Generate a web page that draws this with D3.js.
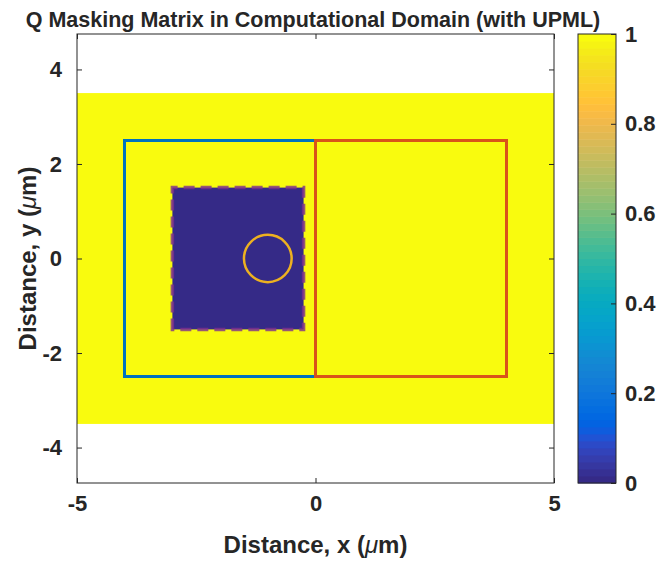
<!DOCTYPE html>
<html>
<head>
<meta charset="utf-8">
<script src="https://cdn.jsdelivr.net/npm/d3@7"></script>
<style>
  html, body { margin: 0; padding: 0; background: #fff; }
  svg { display: block; }
  text { font-family: "Liberation Sans", Arial, Helvetica, sans-serif; fill: #262626; }
</style>
</head>
<body>
<svg id="chart" width="657" height="563"></svg>
<script>
// Q mask: computational domain (value 1) with a masked scatterer region (value 0)
const domainX = [-5, 5];
const domainY = [-3.5, 3.5];
const maskX = [-3, -0.25];
const maskY = [-1.5, 1.5];
const domainQ = 1;
const maskQ = 0;

// Total-field box (left) and scattered-field box (right)
const totalBoxX = [-4, 0];
const totalBoxY = [-2.5, 2.5];
const scatBoxX = [0, 4];
const scatBoxY = [-2.5, 2.5];

// Circular scatterer
const circleCenter = [-1, 0];
const circleRadius = 0.5;

// Axis ticks
const xTicks = [-5, 0, 5];
const yTicks = [-4, -2, 0, 2, 4];
const cTicks = [0, 0.2, 0.4, 0.6, 0.8, 1];

// parula colormap, 64 entries
const parula = [
[0.2081,0.1663,0.5292],[0.2116,0.1898,0.5777],[0.2123,0.2138,0.6270],[0.2081,0.2386,0.6771],
[0.1959,0.2645,0.7279],[0.1707,0.2919,0.7792],[0.1253,0.3242,0.8303],[0.0591,0.3598,0.8683],
[0.0117,0.3875,0.8820],[0.0060,0.4086,0.8828],[0.0165,0.4266,0.8786],[0.0329,0.4430,0.8720],
[0.0498,0.4586,0.8641],[0.0629,0.4737,0.8554],[0.0723,0.4887,0.8467],[0.0779,0.5040,0.8384],
[0.0793,0.5200,0.8312],[0.0749,0.5375,0.8263],[0.0641,0.5570,0.8240],[0.0488,0.5772,0.8228],
[0.0343,0.5966,0.8199],[0.0265,0.6137,0.8135],[0.0239,0.6287,0.8038],[0.0231,0.6418,0.7913],
[0.0228,0.6535,0.7768],[0.0267,0.6642,0.7607],[0.0384,0.6743,0.7436],[0.0590,0.6838,0.7254],
[0.0843,0.6928,0.7062],[0.1133,0.7015,0.6859],[0.1453,0.7098,0.6646],[0.1801,0.7177,0.6424],
[0.2178,0.7250,0.6193],[0.2586,0.7317,0.5954],[0.3022,0.7376,0.5712],[0.3482,0.7424,0.5473],
[0.3953,0.7459,0.5244],[0.4420,0.7481,0.5033],[0.4871,0.7491,0.4840],[0.5300,0.7491,0.4661],
[0.5709,0.7485,0.4494],[0.6099,0.7473,0.4337],[0.6473,0.7456,0.4188],[0.6834,0.7435,0.4044],
[0.7184,0.7411,0.3905],[0.7525,0.7384,0.3768],[0.7858,0.7356,0.3633],[0.8185,0.7327,0.3498],
[0.8507,0.7299,0.3360],[0.8824,0.7274,0.3217],[0.9139,0.7258,0.3063],[0.9450,0.7261,0.2886],
[0.9739,0.7314,0.2666],[0.9938,0.7455,0.2403],[0.9990,0.7653,0.2164],[0.9955,0.7861,0.1967],
[0.9880,0.8066,0.1794],[0.9789,0.8271,0.1633],[0.9697,0.8481,0.1475],[0.9626,0.8705,0.1309],
[0.9589,0.8949,0.1132],[0.9598,0.9218,0.0948],[0.9661,0.9514,0.0755],[0.9763,0.9831,0.0538]
];
const parulaRGB = parula.map(c => d3.rgb(c[0] * 255, c[1] * 255, c[2] * 255).formatHex());

const svg = d3.select("#chart");
const plot = { left: 77, right: 554, top: 34, bottom: 483 };
const cbar = { left: 578, right: 616 };

const x = d3.scaleLinear().domain([-5, 5]).range([plot.left, plot.right]);
const y = d3.scaleLinear().domain([-4.75, 4.75]).range([plot.bottom, plot.top]);
const cIndex = d3.scaleQuantize().domain([0, 1]).range(d3.range(parulaRGB.length));
const colorOf = v => parulaRGB[cIndex(Math.min(v, 0.99999))];

// plain hyphen for negative tick labels
const intFmt = d => String(d);

const clipId = "plotClip";
svg.append("defs").append("clipPath").attr("id", clipId)
  .append("rect")
  .attr("x", plot.left).attr("y", plot.top)
  .attr("width", plot.right - plot.left).attr("height", plot.bottom - plot.top);

const g = svg.append("g").attr("clip-path", `url(#${clipId})`);

// Q matrix image
const qRegions = [
  { xs: domainX, ys: domainY, q: domainQ },
  { xs: maskX, ys: maskY, q: maskQ }
];
g.selectAll("rect.q").data(qRegions).join("rect")
  .attr("class", "q")
  .attr("x", d => x(d.xs[0]))
  .attr("y", d => y(d.ys[1]))
  .attr("width", d => x(d.xs[1]) - x(d.xs[0]))
  .attr("height", d => y(d.ys[0]) - y(d.ys[1]))
  .attr("fill", d => colorOf(d.q));

// Outlines
function boxPath(xs, ys) {
  return `M${x(xs[0])},${y(ys[0])}L${x(xs[0])},${y(ys[1])}L${x(xs[1])},${y(ys[1])}L${x(xs[1])},${y(ys[0])}Z`;
}
g.append("path").attr("d", boxPath(maskX, maskY))
  .attr("fill", "none").attr("stroke", "#7E2F8E").attr("stroke-width", 3.5)
  .attr("stroke-dasharray", "11,6").attr("stroke-opacity", 0.8);
g.append("path").attr("d", boxPath(totalBoxX, totalBoxY))
  .attr("fill", "none").attr("stroke", "#0072BD").attr("stroke-width", 2.5)
  .attr("shape-rendering", "crispEdges");
g.append("path").attr("d", boxPath(scatBoxX, scatBoxY))
  .attr("fill", "none").attr("stroke", "#D95319").attr("stroke-width", 2.5)
  .attr("shape-rendering", "crispEdges");
g.append("ellipse")
  .attr("cx", x(circleCenter[0])).attr("cy", y(circleCenter[1]))
  .attr("rx", x(circleRadius) - x(0)).attr("ry", y(0) - y(circleRadius))
  .attr("fill", "none").attr("stroke", "#EDB120").attr("stroke-width", 2.5);

// Axes frame and inward ticks on all sides
const axisColor = "#262626";
const tickLen = 5;
const tickFont = "22px";
const axes = svg.append("g");
axes.append("rect")
  .attr("x", plot.left).attr("y", plot.top)
  .attr("width", plot.right - plot.left).attr("height", plot.bottom - plot.top)
  .attr("fill", "none").attr("stroke", axisColor).attr("stroke-width", 1);

const axBottom = d3.axisBottom(x).tickValues(xTicks).tickSize(-tickLen).tickFormat(intFmt).tickPadding(12);
const axTop = d3.axisTop(x).tickValues(xTicks).tickSize(-tickLen).tickFormat("");
const axLeft = d3.axisLeft(y).tickValues(yTicks).tickSize(-tickLen).tickFormat(intFmt).tickPadding(15);
const axRight = d3.axisRight(y).tickValues(yTicks).tickSize(-tickLen).tickFormat("");

function styleAxis(sel) {
  sel.select(".domain").remove();
  sel.selectAll(".tick line").attr("stroke", axisColor);
  sel.selectAll(".tick text")
    .attr("fill", axisColor)
    .style("font-size", tickFont).style("font-weight", "bold")
    .style("font-family", '"Liberation Sans", Arial, sans-serif');
}
axes.append("g").attr("transform", `translate(0,${plot.bottom})`).call(axBottom).call(styleAxis);
axes.append("g").attr("transform", `translate(0,${plot.top})`).call(axTop).call(styleAxis);
axes.append("g").attr("transform", `translate(${plot.left},0)`).call(axLeft).call(styleAxis);
axes.append("g").attr("transform", `translate(${plot.right},0)`).call(axRight).call(styleAxis);

// Colorbar
const cy = d3.scaleLinear().domain([0, 1]).range([plot.bottom, plot.top]);
const nC = parulaRGB.length;
const cb = svg.append("g");
cb.selectAll("rect.c").data(parulaRGB).join("rect")
  .attr("class", "c")
  .attr("x", cbar.left)
  .attr("y", (d, i) => cy((i + 1) / nC))
  .attr("width", cbar.right - cbar.left)
  .attr("height", (d, i) => cy(i / nC) - cy((i + 1) / nC) + 0.5)
  .attr("fill", d => d);
cb.append("rect")
  .attr("x", cbar.left).attr("y", plot.top)
  .attr("width", cbar.right - cbar.left).attr("height", plot.bottom - plot.top)
  .attr("fill", "none").attr("stroke", axisColor).attr("stroke-width", 1);
const axC = d3.axisRight(cy).tickValues(cTicks).tickSize(-tickLen).tickPadding(9)
  .tickFormat(d => d === 0 || d === 1 ? String(d) : d.toFixed(1));
cb.append("g").attr("transform", `translate(${cbar.right},0)`).call(axC).call(styleAxis);

// Title and axis labels
svg.append("text")
  .attr("x", 313).attr("y", 27)
  .attr("text-anchor", "middle")
  .style("font-size", "21.5px").style("font-weight", "bold")
  .text("Q Masking Matrix in Computational Domain (with UPML)");

const labelFont = "24px";
const xl = svg.append("text")
  .attr("x", x(0)).attr("y", 553)
  .attr("text-anchor", "middle")
  .style("font-size", labelFont).style("font-weight", "bold");
xl.append("tspan").text("Distance, x (");
xl.append("tspan").style("font-style", "italic").style("font-weight", "normal").text("μ");
xl.append("tspan").text("m)");

const yl = svg.append("text")
  .attr("transform", `translate(36,${y(0)}) rotate(-90)`)
  .attr("text-anchor", "middle")
  .style("font-size", labelFont).style("font-weight", "bold");
yl.append("tspan").text("Distance, y (");
yl.append("tspan").style("font-style", "italic").style("font-weight", "normal").text("μ");
yl.append("tspan").text("m)");
</script>
</body>
</html>
